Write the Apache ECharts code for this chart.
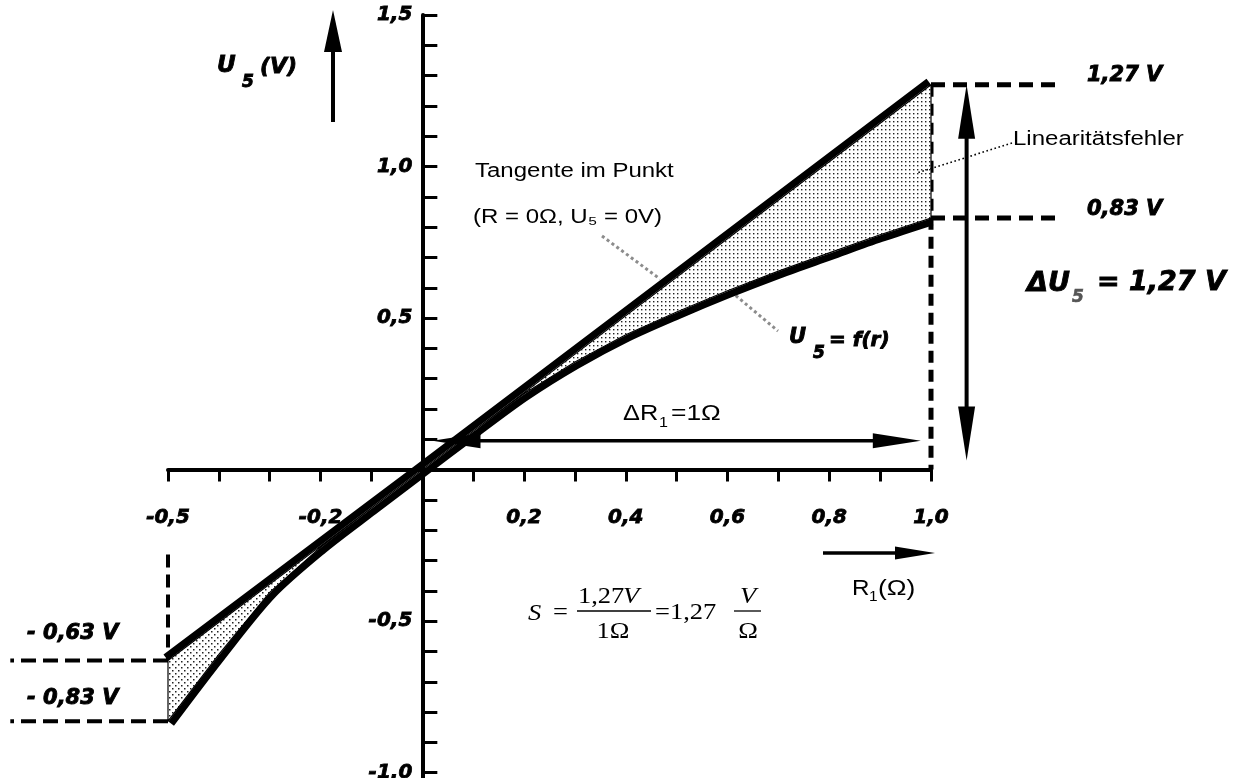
<!DOCTYPE html>
<html>
<head>
<meta charset="utf-8">
<script src="https://cdn.jsdelivr.net/npm/echarts@6/dist/echarts.min.js"></script>
<style>
  html, body { margin: 0; padding: 0; background: #fff; }
  #chart { width: 1242px; height: 778px; }
</style>
</head>
<body>
<div id="chart"></div>
<script>
// Measured bridge output U5 = f(r) over the resistance change R1 (Ω)
const rValues = [-0.5, -0.4, -0.3, -0.2, -0.1, 0, 0.1, 0.2, 0.3, 0.4, 0.5, 0.6, 0.7, 0.8, 0.9, 1.0];
const u5Curve = [-0.83, -0.61, -0.405, -0.256, -0.127, 0, 0.127, 0.25, 0.355, 0.445, 0.52, 0.59, 0.655, 0.715, 0.775, 0.83];

// Tangent through the operating point (R = 0 Ω, U5 = 0 V)
const tangentR = [-0.5, 0, 1.0];
const tangentU = [-0.63, 0, 1.27];

// Labelled ticks
const xLabelValues = [-0.5, -0.2, 0.2, 0.4, 0.6, 0.8, 1.0];
const yLabelValues = [-1.0, -0.5, 0.5, 1.0, 1.5];

// Spans used for the sensitivity S = ΔU5 / ΔR1
const deltaR = 1;
const deltaU = 1.27;
const sensitivity = 1.27;

// ---- layout ----
const X_MIN = -0.5, X_MAX = 1.0, Y_MIN = -1.1, Y_MAX = 1.5;
const GRID = { left: 168, top: 15, width: 763, height: 788 };
// axes cross at the origin: shift them from the grid edges onto zero
const X_AXIS_OFFSET = -(GRID.height * (0 - Y_MIN) / (Y_MAX - Y_MIN));
const Y_AXIS_OFFSET = -(GRID.width * (0 - X_MIN) / (X_MAX - X_MIN));

const GUIDE_RIGHT_END = 1.25;
const GUIDE_LEFT_END = -0.81;
const GUIDE_LEFT_TOP = -0.28;
const DU_ARROW_R = 1.07;
const DU_ARROW_BOTTOM = 0.03;
const DR_ARROW_U = 0.095;
const DR_ARROW_PAD = 0.02;

const fmt = (v, d) => v.toFixed(d).replace('.', ',');
const near = (a, b) => Math.abs(a - b) < 1e-6;

const fontBI = s => `italic bold ${s}px "DejaVu Sans"`;
const fontSans = s => `${s}px "Liberation Sans", Arial, sans-serif`;
const fontSerif = (s, it) => `${it ? 'italic ' : ''}${s}px "Liberation Serif", "Times New Roman", serif`;

// stipple fill for the linearity error region
function dotPattern(step, dot, stagger) {
  const c = document.createElement('canvas');
  c.width = step * (stagger ? 2 : 1);
  c.height = step * (stagger ? 2 : 1);
  const g = c.getContext('2d');
  g.fillStyle = '#fff';
  g.fillRect(0, 0, c.width, c.height);
  g.fillStyle = '#222';
  g.fillRect(1, 1, dot, dot);
  if (stagger) g.fillRect(1 + step, 1 + step, dot, dot);
  return c;
}
const patRight = { image: dotPattern(4, 1.4, false), repeat: 'repeat' };
const patLeft = { image: dotPattern(3, 1.5, true), repeat: 'repeat' };

function arrowShapes(p1, p2, o) {
  const dx = p2[0] - p1[0], dy = p2[1] - p1[1];
  const L = Math.hypot(dx, dy) || 1;
  const ux = dx / L, uy = dy / L, nx = -uy, ny = ux;
  const a = o.start ? [p1[0] + ux * o.len * 0.7, p1[1] + uy * o.len * 0.7] : p1;
  const b = o.end ? [p2[0] - ux * o.len * 0.7, p2[1] - uy * o.len * 0.7] : p2;
  const out = [{
    type: 'line', shape: { x1: a[0], y1: a[1], x2: b[0], y2: b[1] },
    style: { stroke: '#000', lineWidth: o.lw }, z: o.z || 5, silent: true
  }];
  const head = (tip, ex, ey) => ({
    type: 'polygon', z: o.z || 5, silent: true,
    shape: { points: [
      tip,
      [tip[0] - ex * o.len + nx * o.w / 2, tip[1] - ey * o.len + ny * o.w / 2],
      [tip[0] - ex * o.len - nx * o.w / 2, tip[1] - ey * o.len - ny * o.w / 2]
    ] },
    style: { fill: '#000' }
  });
  if (o.end) out.push(head(p2, ux, uy));
  if (o.start) out.push(head(p1, -ux, -uy));
  return out;
}

// polyline shifted sideways in pixel space (side -1: up-left, +1: down-right)
function offsetLine(pts, side, off) {
  const n = pts.length;
  return pts.map((p, i) => {
    let nx = 0, ny = 0;
    const segs = [];
    if (i > 0) segs.push([pts[i - 1], p]);
    if (i < n - 1) segs.push([p, pts[i + 1]]);
    segs.forEach(([a, b]) => {
      const dx = b[0] - a[0], dy = b[1] - a[1], L = Math.hypot(dx, dy) || 1;
      nx += side * (-dy) / L;
      ny += side * dx / L;
    });
    const L = Math.hypot(nx, ny) || 1;
    return [p[0] + nx / L * off, p[1] + ny / L * off];
  });
}

function renderCurves(params, api) {
  const c = (r, u) => api.coord([r, u]);
  const tanPts = tangentR.map((r, i) => c(r, tangentU[i]));
  const curPts = rValues.map((r, i) => c(r, u5Curve[i]));

  const rightTan = tangentR.map((r, i) => [r, tangentU[i]]).filter(p => p[0] >= 0).map(p => c(p[0], p[1]));
  const rightCur = rValues.map((r, i) => [r, u5Curve[i]]).filter(p => p[0] >= 0).map(p => c(p[0], p[1])).reverse();
  const leftTan = tangentR.map((r, i) => [r, tangentU[i]]).filter(p => p[0] <= 0).map(p => c(p[0], p[1]));
  const leftCur = rValues.map((r, i) => [r, u5Curve[i]]).filter(p => p[0] <= 0).map(p => c(p[0], p[1])).reverse();

  return {
    type: 'group',
    children: [
      { type: 'polygon', z2: 1, shape: { points: rightTan.concat(rightCur) },
        style: { fill: patRight, stroke: '#000', lineWidth: 1.2 } },
      { type: 'polygon', z2: 1, shape: { points: leftTan.concat(leftCur) },
        style: { fill: patLeft, stroke: '#000', lineWidth: 1.2 } },
      { type: 'polyline', z2: 3, shape: { points: offsetLine(tanPts, -1, 4) },
        style: { stroke: '#000', lineWidth: 7, fill: null, lineJoin: 'round' } },
      { type: 'polyline', z2: 3, shape: { points: offsetLine(curPts, 1, 4), smooth: 0.3 },
        style: { stroke: '#000', lineWidth: 7, fill: null, lineJoin: 'round' } }
    ]
  };
}

function renderGuides(params, api) {
  const c = (r, u) => api.coord([r, u]);
  const uTop = tangentU[tangentU.length - 1];
  const uEnd = u5Curve[u5Curve.length - 1];
  const rEnd = tangentR[tangentR.length - 1];
  const rStart = tangentR[0];
  const uTanStart = tangentU[0];
  const uCurStart = u5Curve[0];
  const seg = (a, b, w, dash) => ({
    type: 'line', shape: { x1: a[0], y1: a[1], x2: b[0], y2: b[1] },
    style: { stroke: '#000', lineWidth: w, lineDash: dash }
  });
  return {
    type: 'group',
    children: [
      seg(c(rEnd, uTop), c(rEnd, 0), 5, [12, 7]),
      seg(c(rEnd, uTop), c(GUIDE_RIGHT_END, uTop), 5, [14, 8]),
      seg(c(rEnd, uEnd), c(GUIDE_RIGHT_END, uEnd), 5, [14, 8]),
      seg(c(rStart, GUIDE_LEFT_TOP), c(rStart, uTanStart), 4, [13, 7]),
      seg(c(rStart, uTanStart), c(GUIDE_LEFT_END, uTanStart), 4, [15, 7]),
      seg(c(rStart, uCurStart), c(GUIDE_LEFT_END, uCurStart), 4, [15, 7])
    ]
  };
}

function renderDeltaArrows(params, api) {
  const c = (r, u) => api.coord([r, u]);
  const uTop = tangentU[tangentU.length - 1];
  const kids = []
    .concat(arrowShapes(c(DU_ARROW_R, uTop), c(DU_ARROW_R, uTop - deltaU + DU_ARROW_BOTTOM),
      { start: true, end: true, len: 54, w: 17, lw: 4 }))
    .concat(arrowShapes(c(DR_ARROW_PAD, DR_ARROW_U), c(deltaR - DR_ARROW_PAD, DR_ARROW_U),
      { start: true, end: true, len: 48, w: 15, lw: 3.5 }));
  return { type: 'group', children: kids };
}

function txt(x, y, text, font, o) {
  o = o || {};
  const align = o.align || 'left';
  const style = {
    text: text, font: font, fill: o.color || '#000',
    align: align, verticalAlign: 'middle', textAlign: align, textVerticalAlign: 'middle'
  };
  if (o.heavy) { style.stroke = o.color || '#000'; style.lineWidth = o.heavy; }
  return { type: 'text', x: x, y: y, scaleX: o.sx || 1, z: 20, silent: true, style: style };
}
function seg(x1, y1, x2, y2, style, z) {
  return { type: 'line', z: z == null ? 20 : z, silent: true,
    shape: { x1: x1, y1: y1, x2: x2, y2: y2 }, style: style };
}

const H = { heavy: 0.9 };
const graphics = [
  // axis names
  txt(217, 66, 'U', fontBI(23), H),
  txt(242, 83, '5', fontBI(17), H),
  txt(260, 67, '(V)', fontBI(22), H),
  ...arrowShapes([333, 122], [333, 10], { end: true, len: 42, w: 18, lw: 4, z: 20 }),
  txt(852, 589, 'R', fontSans(22), { sx: 1.1 }),
  txt(869, 597, '1', fontSans(14), { sx: 1.1 }),
  txt(878, 589, '(Ω)', fontSans(22), { sx: 1.2 }),
  ...arrowShapes([823, 553], [935, 553], { end: true, len: 40, w: 13, lw: 3.5, z: 20 }),

  // values at the guide lines
  txt(1087, 76, fmt(tangentU[tangentU.length - 1], 2) + ' V', fontBI(21), H),
  txt(1087, 210, fmt(u5Curve[u5Curve.length - 1], 2) + ' V', fontBI(21), H),
  txt(27, 634, '- ' + fmt(Math.abs(tangentU[0]), 2) + ' V', fontBI(21), H),
  txt(27, 699, '- ' + fmt(Math.abs(u5Curve[0]), 2) + ' V', fontBI(21), H),

  // ΔU5
  txt(1027, 284, 'ΔU', fontBI(27), H),
  txt(1072, 298, '5', fontBI(17), { color: '#555', heavy: 0.6 }),
  txt(1097, 283, '= ' + fmt(deltaU, 2) + ' V', fontBI(27), H),

  // ΔR1
  txt(623, 414, 'ΔR', fontSans(22), { sx: 1.15 }),
  txt(659, 423, '1', fontSans(14), { sx: 1.15 }),
  txt(671, 414, '=' + fmt(deltaR, 0) + 'Ω', fontSans(22), { sx: 1.2 }),

  // error label with dotted leader
  txt(1013, 139, 'Linearitätsfehler', fontSans(20), { sx: 1.2 }),
  seg(1012, 143, 917, 173, { stroke: '#000', lineWidth: 1.6, lineDash: [1.6, 2.6] }),

  // tangent description
  txt(475, 171, 'Tangente im Punkt', fontSans(20), { sx: 1.2 }),
  txt(473, 217, '(R = 0Ω, U₅ = 0V)', fontSans(20), { sx: 1.2 }),
  seg(602, 236, 660, 279, { stroke: '#8c8c8c', lineWidth: 3, lineDash: [3, 3] }, 1),
  seg(722, 284, 778, 331, { stroke: '#8c8c8c', lineWidth: 3, lineDash: [3, 3] }, 1),

  // curve label
  txt(789, 338, 'U', fontBI(21), H),
  txt(813, 354, '5', fontBI(17), H),
  txt(829, 341, '= f(r)', fontBI(20), H),

  // sensitivity formula
  txt(528, 614, 'S', fontSerif(23, true), { sx: 1.15 }),
  txt(553, 613, '=', fontSerif(23), { sx: 1.15 }),
  txt(578, 597, fmt(deltaU, 2), fontSerif(23), { sx: 1.15 }),
  txt(623, 597, 'V', fontSerif(23, true), { sx: 1.15 }),
  seg(577, 611, 651, 611, { stroke: '#000', lineWidth: 1.3 }),
  txt(613, 632, fmt(deltaR, 0) + 'Ω', fontSerif(23), { sx: 1.15, align: 'center' }),
  txt(655, 613, '=' + fmt(sensitivity, 2), fontSerif(23), { sx: 1.15 }),
  txt(748, 597, 'V', fontSerif(23, true), { sx: 1.15, align: 'center' }),
  seg(734, 611, 761, 611, { stroke: '#000', lineWidth: 1.3 }),
  txt(748, 632, 'Ω', fontSerif(23), { sx: 1.15, align: 'center' })
];

const axisFont = {
  fontFamily: 'DejaVu Sans', fontStyle: 'italic', fontWeight: 'bold', fontSize: 20, color: '#000',
  textBorderColor: '#000', textBorderWidth: 0.8
};

const chart = echarts.init(document.getElementById('chart'), null, { renderer: 'canvas' });
chart.setOption({
  backgroundColor: '#fff',
  animation: false,
  grid: Object.assign({ outerBoundsMode: 'none', containLabel: false }, GRID),
  xAxis: {
    type: 'value', min: X_MIN, max: X_MAX, interval: 0.1,
    position: 'bottom', offset: X_AXIS_OFFSET,
    axisLine: { onZero: false, lineStyle: { color: '#000', width: 4 } },
    axisTick: { show: true, inside: false, length: 12, lineStyle: { color: '#000', width: 3 } },
    splitLine: { show: false },
    axisLabel: Object.assign({
      margin: 38,
      formatter: v => xLabelValues.some(t => near(t, v)) ? fmt(v, 1) : ''
    }, axisFont)
  },
  yAxis: {
    type: 'value', min: Y_MIN, max: Y_MAX, interval: 0.1,
    position: 'left', offset: Y_AXIS_OFFSET,
    axisLine: { onZero: false, lineStyle: { color: '#000', width: 4 } },
    axisTick: { show: true, inside: true, length: 15, lineStyle: { color: '#000', width: 3 } },
    splitLine: { show: false },
    axisLabel: Object.assign({
      margin: 10,
      formatter: v => yLabelValues.some(t => near(t, v)) ? fmt(v, 1) : ''
    }, axisFont)
  },
  series: [
    { type: 'custom', name: 'guides', coordinateSystem: 'cartesian2d', clip: false, silent: true, z: 2,
      data: [[0, 0]], renderItem: renderGuides },
    { type: 'custom', name: 'U5 = f(r)', coordinateSystem: 'cartesian2d', clip: false, silent: true, z: 3,
      data: [[0, 0]], renderItem: renderCurves },
    { type: 'custom', name: 'spans', coordinateSystem: 'cartesian2d', clip: false, silent: true, z: 4,
      data: [[0, 0]], renderItem: renderDeltaArrows }
  ],
  graphic: { elements: graphics }
});
</script>
</body>
</html>
